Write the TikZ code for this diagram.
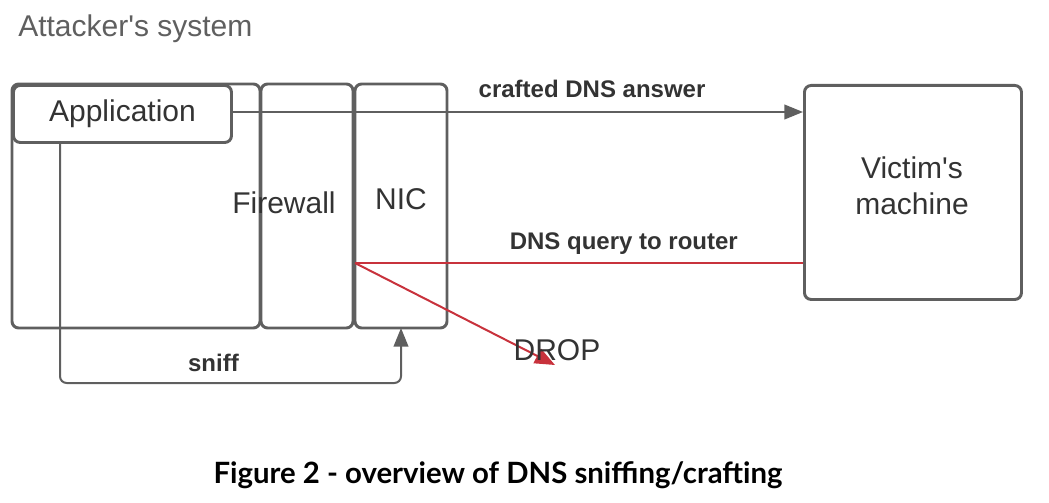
\documentclass[tikz,border=0pt]{standalone}
\usepackage{fontspec}
\setmainfont{Liberation Sans}[Ligatures=TeXOff]
\newfontfamily\capfont{Lato}
\usetikzlibrary{arrows.meta}
\definecolor{lgray}{HTML}{5F5F5F}
\definecolor{lred}{HTML}{C8323C}
\definecolor{tgray}{HTML}{333333}
\begin{document}
\begin{tikzpicture}[x=0.75pt,y=-0.75pt,
  box/.style={draw=lgray,line width=2.2pt,rounded corners=5pt},
  conn/.style={draw=lgray,line width=1.5pt},
  redconn/.style={draw=lred,line width=1.5pt},
  tip/.style={-{Triangle[length=14pt,width=11pt]}},
  lbl/.style={font=\fontsize{18}{21}\selectfont\bfseries,text=tgray,inner sep=0pt},
  big/.style={font=\fontsize{22.5}{26}\selectfont,text=tgray,inner sep=0pt}]
\useasboundingbox (0,0) rectangle (1049,503);
\node[big,anchor=west,text=lgray] (title) at (18,29) {Attacker's system};
% boxes
\draw[box] (12,84) rectangle (260,328);
\draw[box] (261,84) rectangle (353,328);
\draw[box] (355,84) rectangle (447,328);
\node[box,draw,fill=white,minimum width=218*0.75pt,minimum height=57*0.75pt,inner sep=0pt,anchor=north west] (app) at (12,84) {};
\node[big] at (app.center) {Application};
\node[box,draw,minimum width=217*0.75pt,minimum height=214*0.75pt,anchor=north west,inner sep=0pt,align=center] (victim) at (803,84) {};
\node[big,align=center] at (912,186) {Victim's\\[1pt]machine};
\node[big] (fw) at (284,203) {Firewall};
\node[big] (nic) at (401,199) {NIC};
\coordinate (nicbot) at (401,328);
\coordinate (split) at (355,263);
\coordinate (drop) at (555,365);
% arrows
\draw[conn,tip] (app.east |- 0,112) -- node[lbl,above=10pt,pos=0.63] {crafted DNS answer} (victim.west |- 0,112);
\draw[redconn] (victim.west |- 0,263) -- node[lbl,above=6pt,pos=0.4] {DNS query to router} (split);
\draw[redconn,-{Triangle[length=15pt,width=12pt]}] (split) -- (drop);
\node[big] (droplbl) at (557,350) {DROP};
\draw[conn,rounded corners=5pt,tip] (60,141) -- (60,383) -- node[lbl,above=8pt,pos=0.45] {sniff} (401,383) -- (nicbot);
\node[font=\capfont\fontsize{22}{26}\selectfont\bfseries,inner sep=0pt] (cap) at (498,475) {Figure 2 - overview of DNS sniffing/crafting};
\end{tikzpicture}
\end{document}
